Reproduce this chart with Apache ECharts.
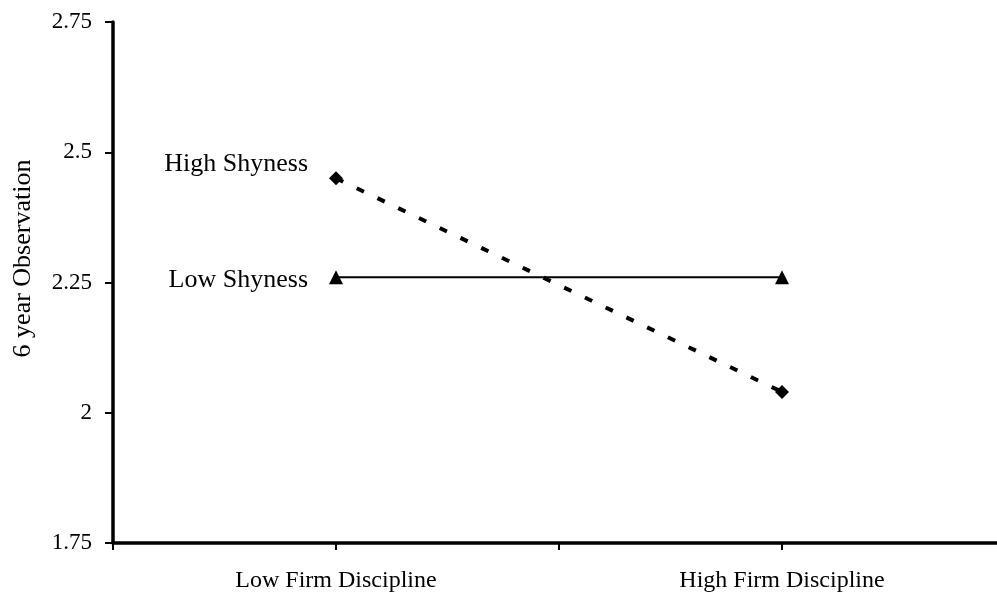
<!DOCTYPE html>
<html>
<head>
<meta charset="utf-8">
<script src="https://cdn.jsdelivr.net/npm/echarts@6/dist/echarts.min.js"></script>
<style>
  html, body { margin: 0; padding: 0; background: #fff; }
  #chart { width: 997px; height: 600px; }
</style>
</head>
<body>
<div id="chart"></div>
<script>
  // tick slots along x; only two carry a label
  var categories = ['', 'Low Firm Discipline', '', 'High Firm Discipline', ''];
  var highShyness = [null, 2.45, null, 2.04, null];
  var lowShyness = [null, 2.26, null, 2.26, null];
  var seriesNames = ['High Shyness', 'Low Shyness'];
  var yTicks = { min: 1.75, max: 2.75, interval: 0.25 };

  var FONT = '"Liberation Serif", "DejaVu Serif", serif';
  var chart = echarts.init(document.getElementById('chart'));

  chart.setOption({
    animation: false,
    backgroundColor: '#fff',
    textStyle: { fontFamily: FONT },
    // the x axis runs a little past the right edge in the original
    grid: { left: 113, top: 22, bottom: 57, right: -8, outerBoundsMode: 'none' },
    xAxis: {
      type: 'category',
      data: categories,
      boundaryGap: false,
      axisLine: { lineStyle: { color: '#000', width: 3.5 } },
      axisTick: { show: true, length: 7, lineStyle: { color: '#000', width: 2 } },
      axisLabel: { color: '#000', fontFamily: FONT, fontSize: 24, margin: 26, interval: 0 },
      splitLine: { show: false }
    },
    yAxis: {
      type: 'value',
      min: yTicks.min,
      max: yTicks.max,
      interval: yTicks.interval,
      name: '6 year Observation',
      nameLocation: 'middle',
      nameGap: 77,
      nameTextStyle: { color: '#000', fontFamily: FONT, fontSize: 26, padding: [0, 0, 0, 48] },
      axisLine: { show: true, lineStyle: { color: '#000', width: 3.5 } },
      axisTick: { show: true, length: 8, lineStyle: { color: '#000', width: 2 } },
      axisLabel: { color: '#000', fontFamily: FONT, fontSize: 23, margin: 21 },
      splitLine: { show: false }
    },
    series: [
      {
        name: seriesNames[0],
        type: 'line',
        data: highShyness,
        connectNulls: true,
        symbol: 'diamond',
        symbolSize: 14,
        itemStyle: { color: '#000' },
        lineStyle: { color: '#000', width: 4, type: [8, 15] },
        label: {
          show: true,
          formatter: function (p) { return p.dataIndex === 1 ? seriesNames[0] : ''; },
          position: 'left',
          offset: [-16, -14],
          color: '#000',
          fontFamily: FONT,
          fontSize: 26
        }
      },
      {
        name: seriesNames[1],
        type: 'line',
        data: lowShyness,
        connectNulls: true,
        symbol: 'triangle',
        symbolSize: 14,
        itemStyle: { color: '#000' },
        lineStyle: { color: '#000', width: 2 },
        label: {
          show: true,
          formatter: function (p) { return p.dataIndex === 1 ? seriesNames[1] : ''; },
          position: 'left',
          offset: [-16, 3],
          color: '#000',
          fontFamily: FONT,
          fontSize: 26
        }
      }
    ]
  });
</script>
</body>
</html>
